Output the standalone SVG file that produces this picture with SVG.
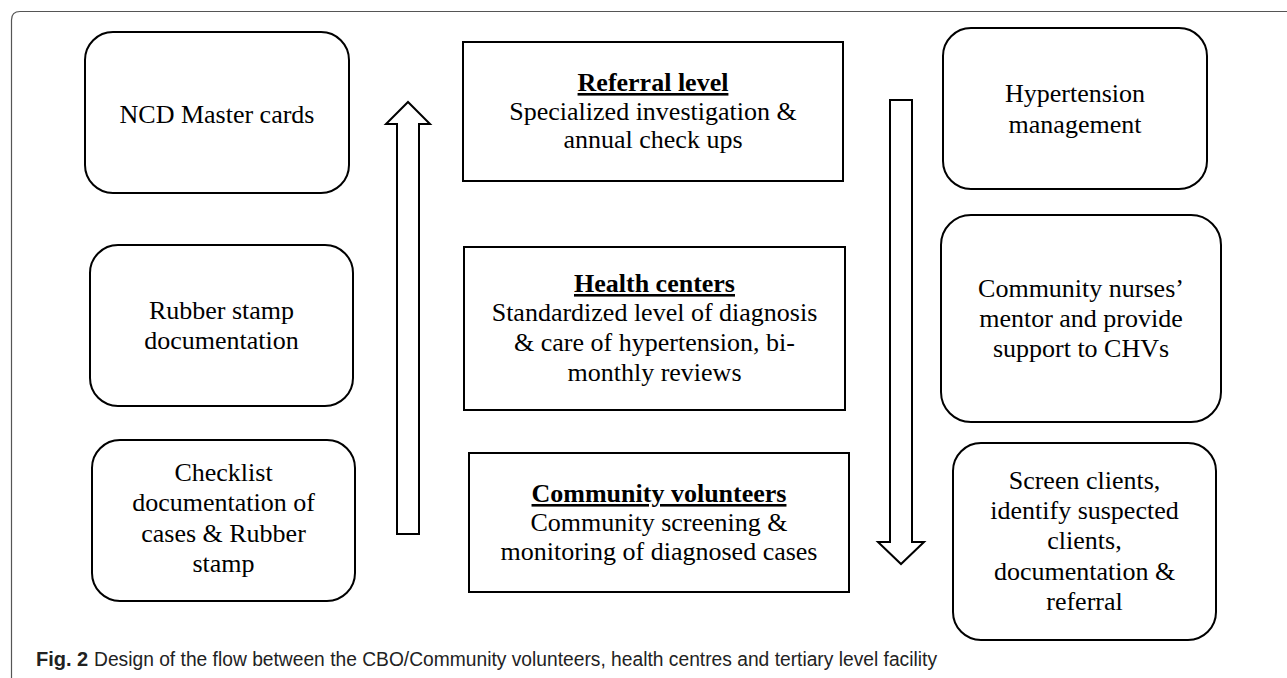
<svg xmlns="http://www.w3.org/2000/svg" width="1287" height="678" viewBox="0 0 1287 678">
<style>
  .box { fill: #fff; stroke: #000; stroke-width: 2; }
  .arrow { fill: #fff; stroke: #000; stroke-width: 2; stroke-linejoin: miter; }
  .t { font-family: "Liberation Serif", "Times New Roman", serif; font-size: 26px; fill: #000; text-anchor: middle; }
  .h { font-weight: bold; text-decoration: underline; }
  .cap { font-family: "Liberation Sans", Arial, sans-serif; font-size: 20px; fill: #222; }
</style>
<rect x="0" y="0" width="1287" height="678" fill="#fff"/>
<path d="M11.5,678 V20 Q11.5,11.5 20,11.5 H1287" fill="none" stroke="#555" stroke-width="1.2"/>

<g id="connectors">
  <polygon class="arrow" points="397,534 397,124 386,124 408,102 430,124 419,124 419,534"/>
  <polygon class="arrow" points="890,100 912,100 912,542 924,542 901,564 878,542 890,542"/>
</g>

<g id="ncd-master-cards">
  <rect class="box" x="85" y="32" width="264" height="161" rx="28"/>
  <text class="t" x="217" y="123">NCD Master cards</text>
</g>
<g id="rubber-stamp">
  <rect class="box" x="90" y="245" width="263" height="161" rx="28"/>
  <text class="t" x="221.5" y="319">Rubber stamp</text>
  <text class="t" x="221.5" y="349">documentation</text>
</g>
<g id="checklist">
  <rect class="box" x="92" y="440" width="263" height="161" rx="28"/>
  <text class="t" x="223.5" y="481">Checklist</text>
  <text class="t" x="223.5" y="511">documentation of</text>
  <text class="t" x="223.5" y="542">cases &amp; Rubber</text>
  <text class="t" x="223.5" y="572">stamp</text>
</g>

<g id="referral-level">
  <rect class="box" x="463" y="42" width="380" height="139"/>
  <text class="t h" x="653" y="91">Referral level</text>
  <text class="t" x="653" y="120">Specialized investigation &amp;</text>
  <text class="t" x="653" y="148">annual check ups</text>
</g>
<g id="health-centers">
  <rect class="box" x="464" y="247" width="381" height="163"/>
  <text class="t h" x="654.5" y="292">Health centers</text>
  <text class="t" x="654.5" y="321">Standardized level of diagnosis</text>
  <text class="t" x="654.5" y="351">&amp; care of hypertension, bi-</text>
  <text class="t" x="654.5" y="381">monthly reviews</text>
</g>
<g id="community-volunteers">
  <rect class="box" x="469" y="453" width="380" height="139"/>
  <text class="t h" x="659" y="502">Community volunteers</text>
  <text class="t" x="659" y="531">Community screening &amp;</text>
  <text class="t" x="659" y="560">monitoring of diagnosed cases</text>
</g>

<g id="hypertension-management">
  <rect class="box" x="943" y="28" width="264" height="161" rx="28"/>
  <text class="t" x="1075" y="102">Hypertension</text>
  <text class="t" x="1075" y="133">management</text>
</g>
<g id="community-nurses">
  <rect class="box" x="941" y="215" width="280" height="207" rx="30"/>
  <text class="t" x="1081" y="297">Community nurses’</text>
  <text class="t" x="1081" y="327">mentor and provide</text>
  <text class="t" x="1081" y="357">support to CHVs</text>
</g>
<g id="screen-clients">
  <rect class="box" x="953" y="443" width="263" height="197" rx="28"/>
  <text class="t" x="1084.5" y="489">Screen clients,</text>
  <text class="t" x="1084.5" y="519">identify suspected</text>
  <text class="t" x="1084.5" y="549">clients,</text>
  <text class="t" x="1084.5" y="580">documentation &amp;</text>
  <text class="t" x="1084.5" y="610">referral</text>
</g>

<g id="caption">
  <text class="cap" x="36" y="666" font-weight="bold">Fig. 2</text>
  <text class="cap" x="94" y="666" textLength="843" lengthAdjust="spacingAndGlyphs">Design of the flow between the CBO/Community volunteers, health centres and tertiary level facility</text>
</g>
</svg>
